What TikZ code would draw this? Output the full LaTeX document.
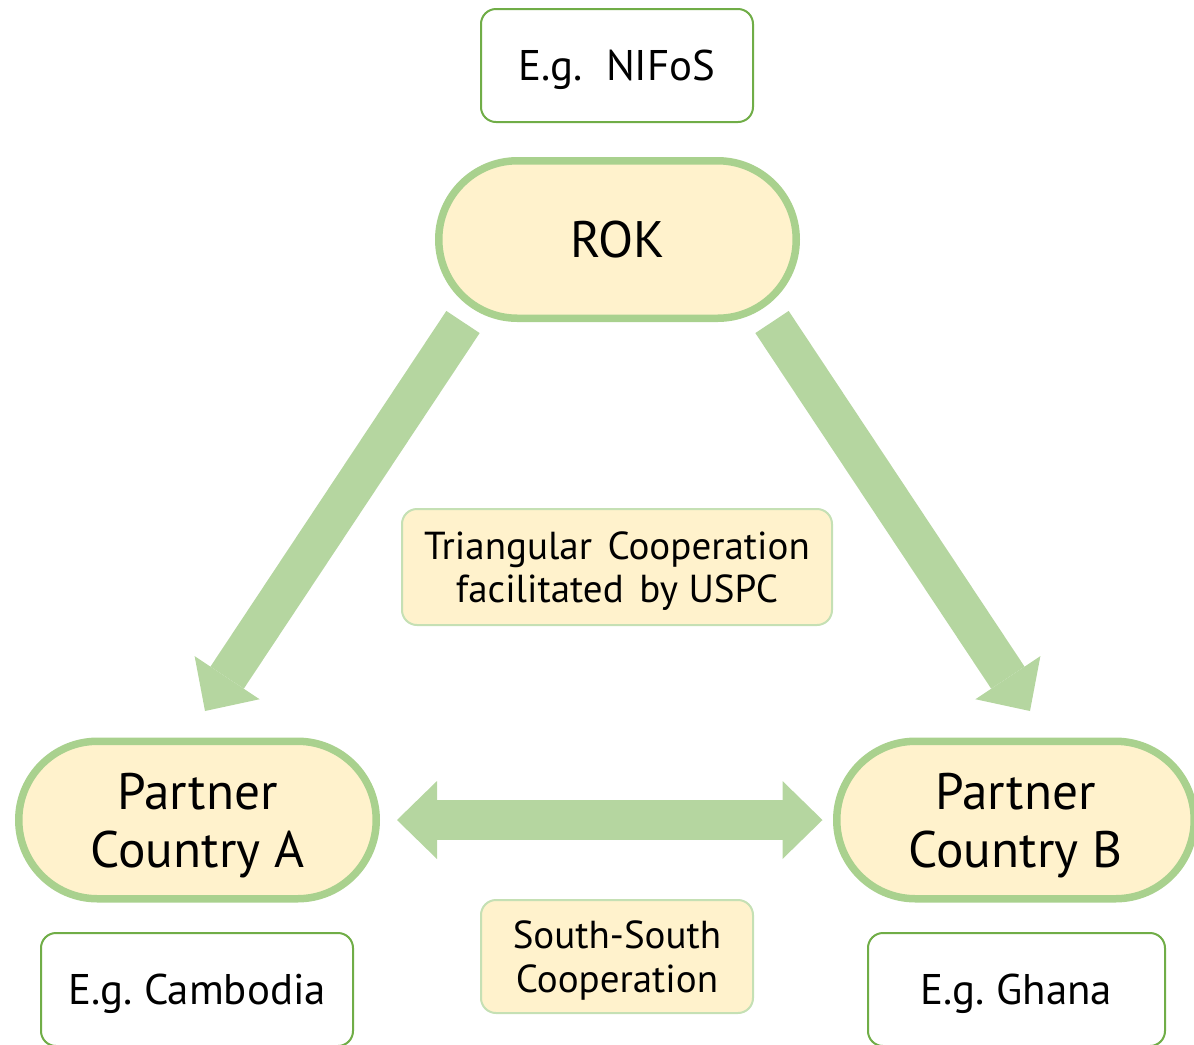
\documentclass[tikz,border=0pt]{standalone}
\usepackage{fontspec}
\setmainfont{PT Sans}
\usetikzlibrary{arrows.meta,positioning}
\definecolor{cream}{HTML}{FFF2CC}
\definecolor{ringgreen}{HTML}{A9D18E}
\definecolor{arrowgreen}{RGB}{181,214,160}
\definecolor{boxgreen}{HTML}{70AD47}
\definecolor{palegreen}{HTML}{C5E0B4}
\tikzstyle{country}=[draw=ringgreen,fill=cream,line width=0.075cm,minimum width=3.575cm,minimum height=1.575cm,rounded corners=0.787cm,inner sep=0pt,text depth=0pt,align=center,font=\fontsize{14.6}{16.5}\selectfont]
\tikzstyle{example}=[draw=boxgreen,fill=white,line width=0.02cm,rounded corners=0.15cm,minimum height=1.13cm,inner sep=0pt,text depth=0pt,font=\fontsize{12.2}{14}\selectfont]
\tikzstyle{notebox}=[draw=palegreen,fill=cream,line width=0.02cm,rounded corners=0.15cm,minimum height=1.13cm,inner sep=0pt,text depth=0pt,align=center,font=\fontsize{11.1}{12.4}\selectfont]
\tikzstyle{flow}=[draw=arrowgreen,line width=0.4cm,-{Triangle[length=0.4cm,width=0.78cm,line width=0pt]}]
\frenchspacing

\begin{document}
\begin{tikzpicture}
    \useasboundingbox (0,0) rectangle (11.94,-10.44);

    \node[country] (rok) at (6.175,-2.395) {ROK};
    \node[country] (pa) at (1.975,-8.2) {Partner\\Country A};
    \node[country] (pb) at (10.155,-8.2) {Partner\\Country B};

    \foreach \pos/\name/\bw/\txt in {{(6.17,-0.655)/nifos/2.72/E.g.\ \ NIFoS}, {(1.97,-9.895)/camb/3.12/E.g. Cambodia}, {(10.165,-9.895)/ghana/2.97/E.g. Ghana}}
        \node[example,minimum width=\bw cm] (\name) at \pos {\txt};

    \node[notebox,minimum width=4.3cm,minimum height=1.16cm] (tri) at (6.17,-5.67) {Triangular\hspace{0.4em}Cooperation\\facilitated\hspace{0.4em}by USPC};
    \node[notebox,minimum width=2.72cm] (ssc) at (6.17,-9.565) {South-South\\Cooperation};

    % flows from ROK down to the partners
    \coordinate (rokl) at (4.63,-3.22);
    \coordinate (rokr) at (7.72,-3.22);
    \coordinate (tipa) at (2.05,-7.11);
    \coordinate (tipb) at (10.3,-7.11);
    \path[flow] (rokl) -- (tipa);
    \path[flow] (rokr) -- (tipb);

    % south-south link
    \path[flow,{Triangle[length=0.4cm,width=0.78cm,line width=0pt]}-{Triangle[length=0.4cm,width=0.78cm,line width=0pt]},shorten <=1.7mm,shorten >=1.05mm] (pa.east) -- (pb.west);

\end{tikzpicture}
\end{document}
